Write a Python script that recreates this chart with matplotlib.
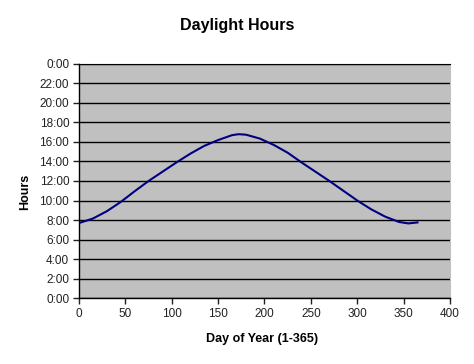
import matplotlib
matplotlib.use('Agg')
import matplotlib.pyplot as plt

# Day of year and daylight hours
days = [1, 15, 30, 45, 60, 75, 90, 105, 120, 135, 150, 165, 172, 180,
        195, 210, 225, 240, 255, 270, 285, 300, 315, 330, 345, 355, 365]
hours = [7.72, 8.15, 8.9, 9.85, 10.95, 12.0, 12.95, 13.9, 14.8, 15.6, 16.2,
         16.7, 16.8, 16.75, 16.35, 15.7, 14.9, 13.9, 12.95, 12.0, 11.0,
         10.0, 9.1, 8.35, 7.8, 7.65, 7.75]

y_ticks = list(range(0, 25, 2))
y_labels = ['0:00', '2:00', '4:00', '6:00', '8:00', '10:00', '12:00',
            '14:00', '16:00', '18:00', '20:00', '22:00', '0:00']
x_ticks = list(range(0, 401, 50))

plt.rcParams['font.family'] = ['Liberation Sans', 'DejaVu Sans']

fig = plt.figure(figsize=(4.74, 3.64), dpi=100)
ax = fig.add_axes([0.1667, 0.1813, 0.7826, 0.6429])
ax.set_facecolor('#c0c0c0')

ax.plot(days, hours, color='#000080', linewidth=1.5)

ax.set_xlim(0, 400)
ax.set_ylim(0, 24)
ax.set_xticks(x_ticks)
ax.set_yticks(y_ticks, labels=y_labels)
ax.yaxis.grid(True, color='black', linewidth=1)
ax.set_axisbelow(True)
ax.tick_params(direction='out', length=4, width=1, labelsize=8.5,
               colors='black', pad=3)
ax.tick_params(axis='y', colors='#222222')
ax.tick_params(axis='x', colors='#222222')

for side in ('left', 'bottom'):
    ax.spines[side].set_color('black')
    ax.spines[side].set_linewidth(1)
ax.spines['top'].set_color('black')
ax.spines['right'].set_color('#c0c0c0')

fig.text(0.5, 0.931, 'Daylight Hours', ha='center', va='center',
         fontsize=11.5, fontweight='bold')
fig.text(0.553, 0.069, 'Day of Year (1-365)', ha='center', va='center',
         fontsize=9, fontweight='bold')
fig.text(0.053, 0.473, 'Hours', ha='center', va='center', rotation=90,
         fontsize=9, fontweight='bold')

plt.savefig('out.png', dpi=100)
